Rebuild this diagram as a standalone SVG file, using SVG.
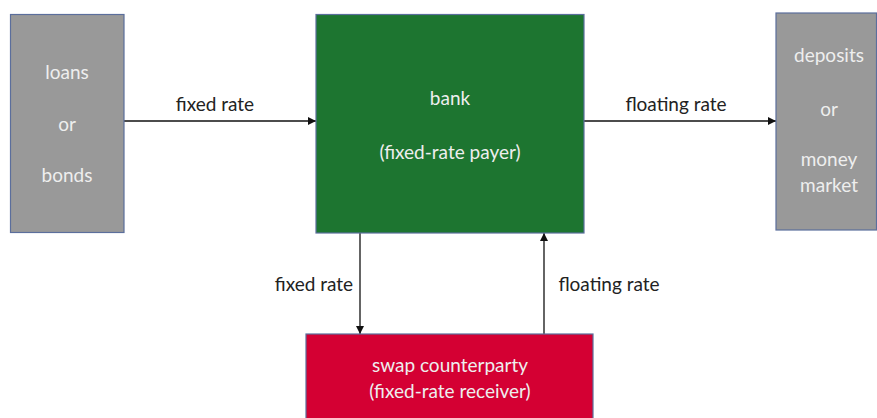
<svg xmlns="http://www.w3.org/2000/svg" width="877" height="418" viewBox="0 0 877 418">
  <style>
    .box { stroke: #5b6e9c; stroke-width: 1.2; }
    .grey { fill: #999999; }
    .green { fill: #1d7530; }
    .red { fill: #d40033; }
    .inner { font-family: Lato, "Open Sans", sans-serif; font-size: 19px; fill: #eeeeee; text-anchor: middle; }
    .lbl { font-family: Lato, "Open Sans", sans-serif; font-size: 19px; fill: #222222; text-anchor: middle; }
    .conn { stroke: #111111; stroke-width: 1.3; fill: none; marker-end: url(#arrow); }
  </style>
  <defs>
    <marker id="arrow" viewBox="0 0 10 10" refX="10" refY="5" markerWidth="8" markerHeight="8" markerUnits="userSpaceOnUse" orient="auto">
      <path d="M0,0 L10,5 L0,10 z" fill="#111111"/>
    </marker>
  </defs>
  <rect width="877" height="418" fill="#ffffff"/>

  <g id="connectors">
    <line class="conn" x1="124" y1="121" x2="316" y2="121"/>
    <line class="conn" x1="584" y1="121" x2="776" y2="121"/>
    <line class="conn" x1="360" y1="233" x2="360" y2="334"/>
    <line class="conn" x1="544" y1="334" x2="544" y2="233"/>
    <text class="lbl" x="215" y="111">fixed rate</text>
    <text class="lbl" x="676" y="111">floating rate</text>
    <text class="lbl" x="314" y="291">fixed rate</text>
    <text class="lbl" x="609" y="291">floating rate</text>
  </g>

  <g id="loans">
    <rect class="box grey" x="10.5" y="14.5" width="113.5" height="218"/>
    <text class="inner" x="67" y="79">loans</text>
    <text class="inner" x="67" y="131">or</text>
    <text class="inner" x="67" y="182">bonds</text>
  </g>

  <g id="bank">
    <rect class="box green" x="316" y="14.5" width="268" height="218.5"/>
    <text class="inner" x="450" y="105">bank</text>
    <text class="inner" x="450" y="159">(fixed-rate payer)</text>
  </g>

  <g id="deposits">
    <rect class="box grey" x="776" y="13" width="100.5" height="217"/>
    <text class="inner" x="829" y="62">deposits</text>
    <text class="inner" x="829" y="116">or</text>
    <text class="inner" x="829" y="166">money</text>
    <text class="inner" x="829" y="192">market</text>
  </g>

  <g id="counterparty">
    <rect class="box red" x="306" y="334" width="287" height="90"/>
    <text class="inner" x="450" y="372">swap counterparty</text>
    <text class="inner" x="450" y="398">(fixed-rate receiver)</text>
  </g>
</svg>
